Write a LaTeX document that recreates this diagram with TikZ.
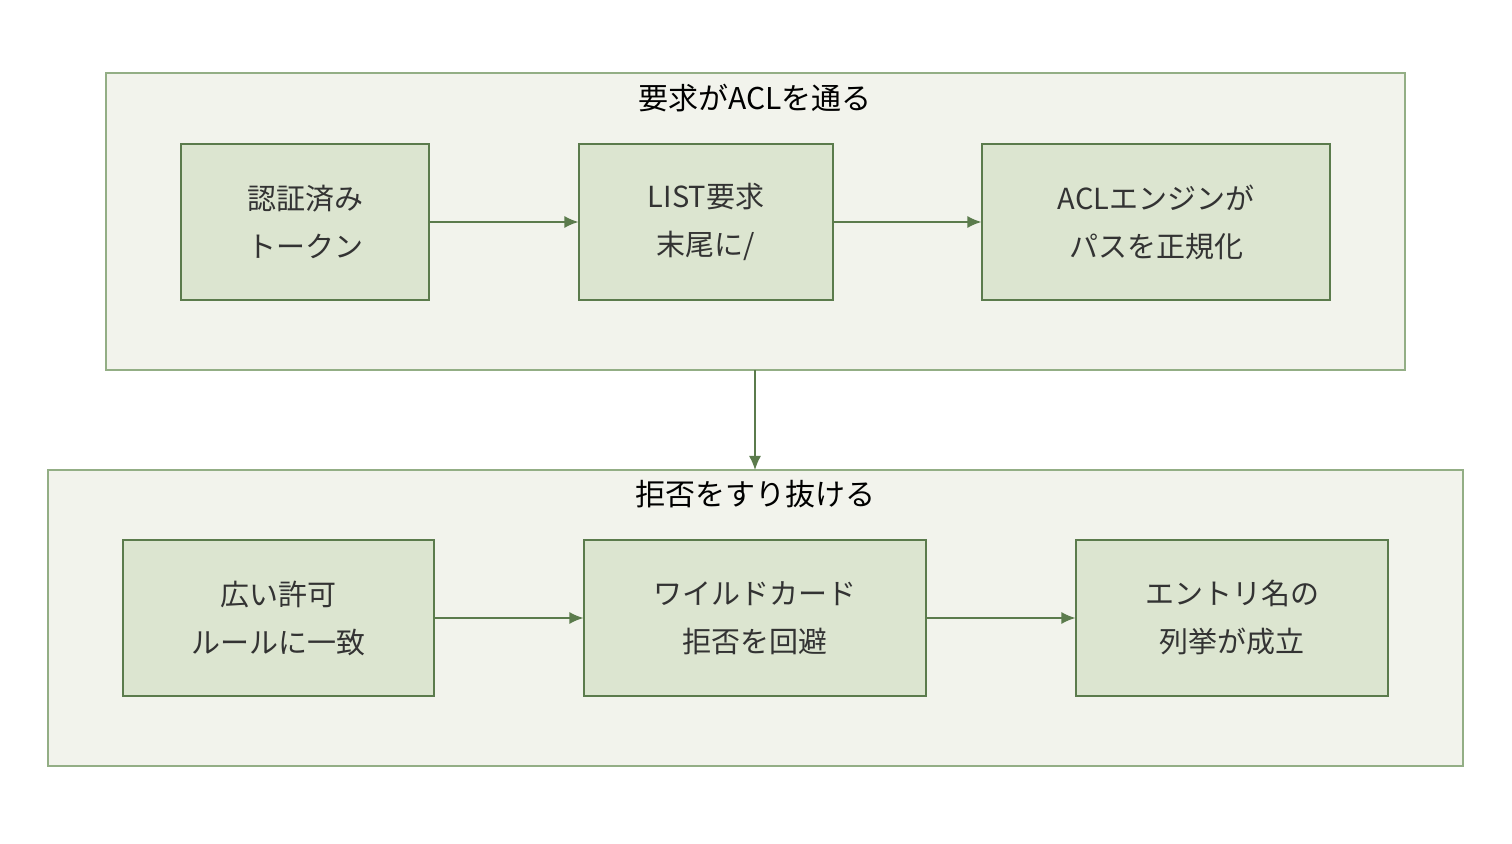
\documentclass[tikz,border=0pt]{standalone}
\usepackage{fontspec}
\setmainfont{Noto Sans CJK JP}
\usetikzlibrary{arrows.meta,positioning}
\definecolor{grpfill}{HTML}{F2F3EC}
\definecolor{grpline}{HTML}{93AE85}
\definecolor{boxfill}{HTML}{DCE5D0}
\definecolor{boxline}{HTML}{5B7B4C}
\definecolor{txt}{HTML}{333333}
\tikzset{
  group/.style={draw=grpline, fill=grpfill, line width=0.6pt},
  stepbox/.style={draw=boxline, fill=boxfill, line width=0.6pt, align=center,
    text=txt, font=\fontsize{14.5}{24}\selectfont, inner sep=0pt},
  title/.style={text=black, font=\fontsize{15}{18}\selectfont},
  flow/.style={-{Latex[length=7pt,width=6pt]}, draw=boxline, line width=0.7pt},
}
\begin{document}
\begin{tikzpicture}[x=0.5pt,y=-0.5pt]
\useasboundingbox (0,0) rectangle (1512,844);

% --- upper group ---
\draw[group] (106,73) rectangle (1405,370);
\node[title] (t1) at (755,98) {要求がACLを通る};
\node[stepbox, minimum width=124pt, minimum height=78pt] (tok) at (305,222) {認証済み\\トークン};
\node[stepbox, minimum width=127pt, minimum height=78pt] (lst) at (706,222) {LIST要求\\末尾に/};
\node[stepbox, minimum width=174pt, minimum height=78pt] (eng) at (1156,222) {ACLエンジンが\\パスを正規化};
\draw[flow] (tok) -- (lst);
\draw[flow] (lst) -- (eng);

% --- lower group ---
\draw[group] (48,470) rectangle (1463,766);
\node[title] (t2) at (755,494) {拒否をすり抜ける};
\node[stepbox, minimum width=155.5pt, minimum height=78pt] (wide) at (278.5,618) {広い許可\\ルールに一致};
\node[stepbox, minimum width=171pt, minimum height=78pt] (wild) at (755,618) {ワイルドカード\\拒否を回避};
\node[stepbox, minimum width=156pt, minimum height=78pt] (enum) at (1232,618) {エントリ名の\\列挙が成立};
\draw[flow] (wide) -- (wild);
\draw[flow] (wild) -- (enum);

\coordinate (g1) at (755,370);
\coordinate (g2) at (755,470);
\draw[flow] (g1) -- (g2);
\end{tikzpicture}
\end{document}
